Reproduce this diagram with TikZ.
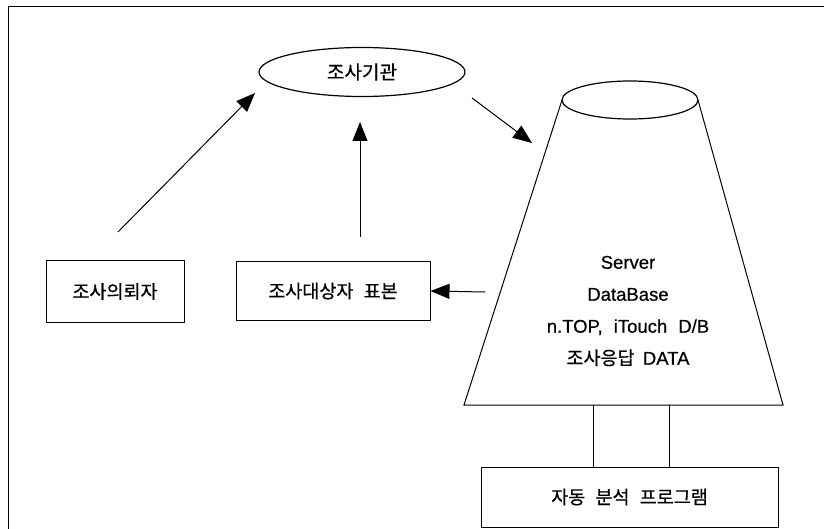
\documentclass[tikz,border=0pt]{standalone}
\usepackage{fontspec}
\setmainfont[FakeBold=0.6]{Liberation Sans}
\newfontfamily\krf[FakeBold=0.6]{Noto Sans CJK KR}
\usetikzlibrary{arrows.meta,shapes.geometric}
\newcommand{\gap}{\hspace*{0.55em}}
\begin{document}
\begin{tikzpicture}[x=1pt,y=-1pt,
  ln/.style={line width=1pt},
  box/.style={draw,line width=1pt,inner sep=0pt,font=\krf\fontsize{18.5}{22}\selectfont},
  arr/.style={line width=1pt,-{Triangle[length=19pt,width=15pt]}}]
\useasboundingbox (0,0) rectangle (824,529);
% frame
\coordinate (fbl) at (8,529);
\coordinate (ftl) at (8,7);
\coordinate (ftr) at (824,7);
\draw[ln] (fbl) -- (ftl) -- (ftr);
% nodes
\node[draw,ellipse,line width=1.2pt,minimum width=206pt,minimum height=49pt,inner sep=0pt,
      font=\krf\fontsize{19}{22}\selectfont] (org) at (362,72) {조사기관};
\node[box,minimum width=138pt,minimum height=61pt] (client) at (115,291.5) {조사의뢰자};
\node[box,minimum width=194pt,minimum height=58pt] (sample) at (333,291) {조사대상자\gap 표본};
\node[box,minimum width=297pt,minimum height=60pt] (prog) at (629.5,497) {자동\gap 분석\gap 프로그램};
% server cylinder (trapezoid)
\coordinate (ctl) at (562,100);
\coordinate (ctr) at (698,100);
\coordinate (cbl) at (464,405);
\coordinate (cbr) at (783,405);
\draw[ln] (ctl) -- (cbl) -- (cbr) -- (ctr);
\draw[line width=1.2pt] (630,100) ellipse [x radius=68, y radius=19];
\node[align=center,font=\fontsize{18.5}{32}\selectfont] (db) at (628,311)
  {Server\\DataBase\\n.TOP,\hspace*{0.6em}iTouch\hspace*{0.6em}D/B\\{\krf 조사응답}\hspace*{0.45em}DATA};
% links from server to program
\coordinate (b1) at (593,405);
\coordinate (b2) at (669,405);
\draw[ln] (b1) -- (b1 |- prog.north);
\draw[ln] (b2) -- (b2 |- prog.north);
% arrows
\coordinate (a1s) at (118,232);
\coordinate (a1e) at (255,93);
\draw[arr] (a1s) -- (a1e);
\coordinate (a2s) at (360,237);
\coordinate (a2e) at (360,122);
\draw[arr] (a2s) -- (a2e);
\coordinate (a3s) at (472,98);
\coordinate (a3e) at (532,143);
\draw[arr] (a3s) -- (a3e);
\coordinate (a4s) at (485,292);
\draw[arr] (a4s) -- (sample.east);
\end{tikzpicture}
\end{document}
